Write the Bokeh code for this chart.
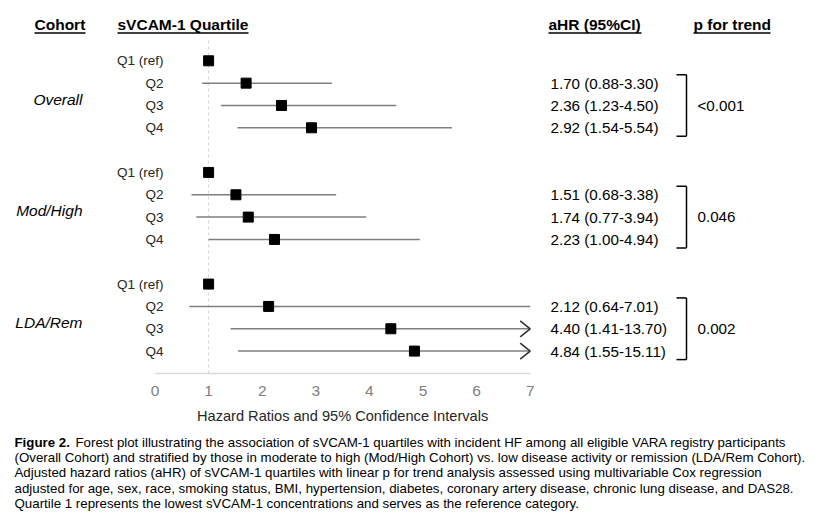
from bokeh.plotting import figure
from bokeh.models import Range1d, LinearAxis, FixedTicker
from bokeh.core.properties import value
from bokeh.embed import file_html
from bokeh.resources import INLINE

# ---------------- data ----------------
cohorts = ["Overall", "Mod/High", "LDA/Rem"]
quartiles = ["Q1 (ref)", "Q2", "Q3", "Q4"]
hr_overall = [1.00, 1.70, 2.36, 2.92]
lo_overall = [None, 0.88, 1.23, 1.54]
hi_overall = [None, 3.30, 4.50, 5.54]
hr_modhigh = [1.00, 1.51, 1.74, 2.23]
lo_modhigh = [None, 0.68, 0.77, 1.00]
hi_modhigh = [None, 3.38, 3.94, 4.94]
hr_lda = [1.00, 2.12, 4.40, 4.84]
lo_lda = [None, 0.64, 1.41, 1.55]
hi_lda = [None, 7.01, 13.70, 15.11]
p_trend = ["<0.001", "0.046", "0.002"]
x_ticks = [0, 1, 2, 3, 4, 5, 6, 7]
x_max = 7

headers = ["Cohort", "sVCAM-1 Quartile", "aHR (95%CI)", "p for trend"]
axis_title = "Hazard Ratios and 95% Confidence Intervals"
caption_bold = "Figure 2."
caption_lines = [
    "Forest plot illustrating the association of sVCAM-1 quartiles with incident HF among all eligible VARA registry participants",
    "(Overall Cohort) and stratified by those in moderate to high (Mod/High Cohort) vs. low disease activity or remission (LDA/Rem Cohort).",
    "Adjusted hazard ratios (aHR) of sVCAM-1 quartiles with linear p for trend analysis assessed using multivariable Cox regression",
    "adjusted for age, sex, race, smoking status, BMI, hypertension, diabetes, coronary artery disease, chronic lung disease, and DAS28.",
    "Quartile 1 represents the lowest sVCAM-1 concentrations and serves as the reference category.",
]

# ---------------- layout helpers (picture pixel -> data) ----------------
W, H = 805, 514
X0, SX = 154.5, 53.6      # pixel of x=0, pixels per unit
Y0, SY = 60.3, 22.33      # pixel of row 0, pixels per row


def X(px):
    return (px - X0) / SX


def Y(py):
    return (py - Y0) / SY


FONT = value("Liberation Sans")

p = figure(width=W, height=H, output_backend="svg", toolbar_location=None,
           x_axis_type=None, y_axis_type=None, min_border=0,
           x_range=Range1d(X(0), X(W)), y_range=Range1d(Y(H), Y(0)))
p.outline_line_color = None
p.background_fill_color = "white"

groups = [(hr_overall, lo_overall, hi_overall),
          (hr_modhigh, lo_modhigh, hi_modhigh),
          (hr_lda, lo_lda, hi_lda)]
rows, hrs, q_lab, seg_x0, seg_x1, seg_y = [], [], [], [], [], []
txt_y, txt = [], []
arrow_xs, arrow_ys = [], []
coh_y, br_top, br_bot, p_y = [], [], [], []
dx, dy = 10 / SX, 8 / SY
for g, (hr, lo, hi) in enumerate(groups):
    base = g * 5
    for i in range(4):
        r = base + i
        rows.append(r)
        hrs.append(hr[i])
        q_lab.append(quartiles[i])
        if lo[i] is not None:
            seg_x0.append(lo[i])
            seg_x1.append(min(hi[i], x_max))
            seg_y.append(r)
            txt_y.append(r)
            txt.append(f"{hr[i]:.2f} ({lo[i]:.2f}-{hi[i]:.2f})")
            if round(hi[i], 1) > x_max:
                arrow_xs.append([x_max - dx, x_max, x_max - dx])
                arrow_ys.append([r - dy, r, r + dy])
    coh_y.append(base + 1.72)
    br_top.append(base + 1 - 8.5 / SY)
    br_bot.append(base + 3 + 8.5 / SY)
    p_y.append(base + 2)

# reference line at HR = 1
p.segment(x0=[1], x1=[1], y0=[Y(40)], y1=[Y(373)], line_color="#d4d4d4",
          line_width=1, line_dash="3 3")

# CI lines
p.segment(x0=seg_x0, x1=seg_x1, y0=seg_y, y1=seg_y, line_color="#7f7f7f", line_width=1.5)
p.multi_line(xs=arrow_xs, ys=arrow_ys, line_color="#333333", line_width=1.6)

# point estimates
p.scatter(x=hrs, y=rows, marker="square", size=10, fill_color="black", line_color="black")

# x axis
ax = LinearAxis(fixed_location=Y(373), bounds=(0, x_max), ticker=FixedTicker(ticks=x_ticks))
ax.axis_line_color = "#d9d9d9"
ax.axis_line_width = 1.5
ax.major_tick_line_color = None
ax.minor_tick_line_color = None
ax.major_tick_out = 0
ax.major_tick_in = 0
ax.major_label_standoff = 12
ax.major_label_text_color = "#808080"
ax.major_label_text_font = "Liberation Sans"
ax.major_label_text_font_size = "15.5px"
p.add_layout(ax, "below")

p.text(x=[x_max / 2], y=[Y(415)], text=[axis_title], text_font=FONT,
       text_font_size="14.6px", text_color="#262626", text_align="center",
       text_baseline="middle")

# quartile labels
p.text(x=[X(163)] * len(rows), y=rows, text=q_lab, text_font=FONT,
       text_font_size="13.5px", text_color="#262626", text_align="right",
       text_baseline="middle")

# cohort labels
p.text(x=[X(82)] * 3, y=coh_y, text=cohorts, text_font=FONT, text_font_style="italic",
       text_font_size="15.5px", text_color="black", text_align="right",
       text_baseline="middle")

# aHR text
p.text(x=[X(550)] * len(txt), y=txt_y, text=txt, text_font=FONT,
       text_font_size="15.2px", text_color="black", text_align="left",
       text_baseline="middle")

# brackets
bx, bx0 = X(686), X(676)
p.segment(x0=[bx] * 3, x1=[bx] * 3, y0=br_top, y1=br_bot, line_color="black", line_width=1.5)
p.segment(x0=[bx0] * 6, x1=[bx] * 6, y0=br_top + br_bot, y1=br_top + br_bot,
          line_color="black", line_width=1.5)
p.text(x=[X(697)] * 3, y=p_y, text=p_trend, text_font=FONT, text_font_size="15.2px",
       text_color="black", text_align="left", text_baseline="middle")

# headers with underlines
hx = [X(34), X(117), X(548), X(693)]
hx_end = [X(85), X(248), X(641), X(770)]
p.text(x=hx, y=[Y(24)] * 4, text=headers, text_font=FONT, text_font_style="bold",
       text_font_size="15.5px", text_color="black", text_align="left",
       text_baseline="middle")
p.segment(x0=hx, x1=hx_end, y0=[Y(32.5)] * 4, y1=[Y(32.5)] * 4, line_color="black",
          line_width=1.5)

# caption
cap_y = [Y(442 + 15.2 * i) for i in range(len(caption_lines))]
p.text(x=[X(14)], y=[cap_y[0]], text=[caption_bold], text_font=FONT,
       text_font_style="bold", text_font_size="13.3px", text_color="black",
       text_align="left", text_baseline="middle")
p.text(x=[X(75)] + [X(14)] * (len(caption_lines) - 1), y=cap_y, text=caption_lines,
       text_font=FONT, text_font_size="13.3px", text_color="black",
       text_align="left", text_baseline="middle")

open("out.html", "w").write(file_html(p, INLINE))
